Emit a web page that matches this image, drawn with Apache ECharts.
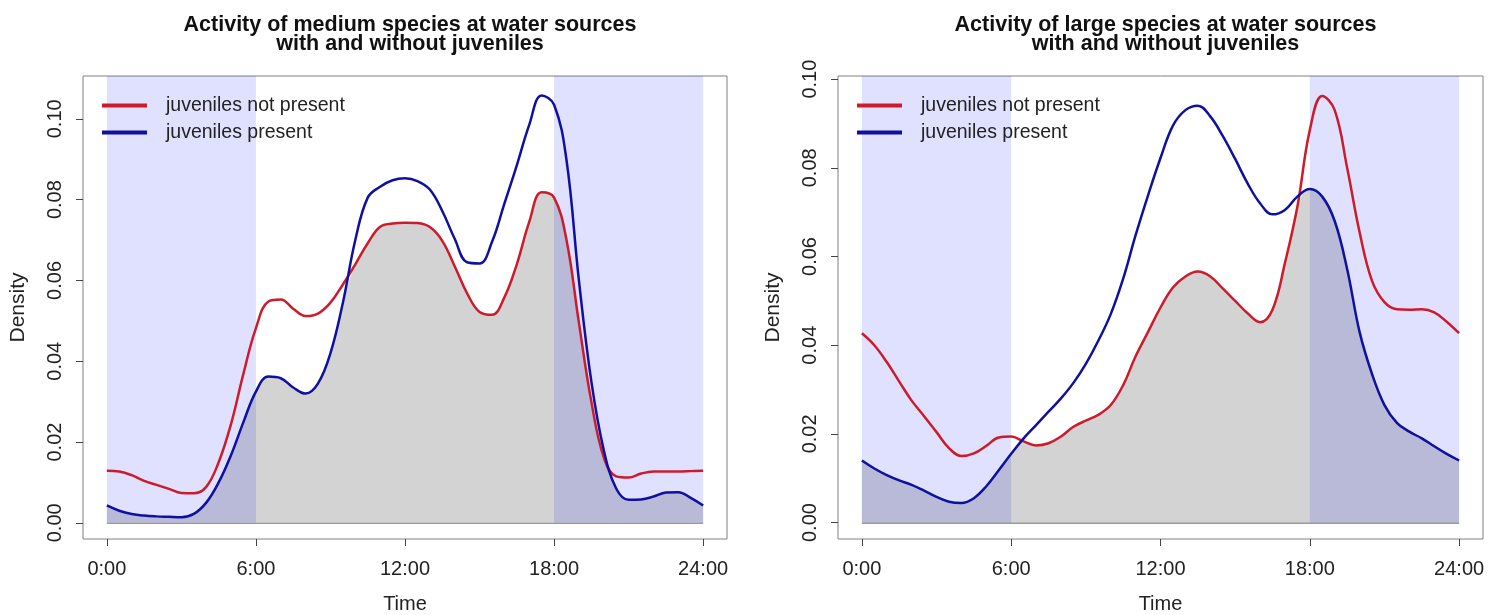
<!DOCTYPE html>
<html lang="en">
<head>
	<meta charset="UTF-8">
	<title>activity at water sources</title>
	<style type="text/css">
	body,html{
		width: 100%;
		height: 100%;
		margin: 0;
		padding: 0;
		background: #fff;
	}
	#chart{
		width: 1504px;
		height: 615px;
	}
	</style>
</head>
<body>
<div id="chart"></div>
<script type="text/javascript" src="https://cdn.jsdelivr.net/npm/echarts@6/dist/echarts.min.js"></script>
<script type="text/javascript">
// hours of the day (x values, every half hour)
var hours = [0,0.5,1,1.5,2,2.5,3,3.5,4,4.5,5,5.5,6,6.5,7,7.5,8,8.5,9,9.5,10,10.5,11,11.5,12,
	12.5,13,13.5,14,14.5,15,15.5,16,16.5,17,17.5,18,18.5,19,19.5,20,20.5,21,21.5,22,22.5,23,23.5,24];
var hourTicks = [0, 6, 12, 18, 24];
var densityTicks = [0, 0.02, 0.04, 0.06, 0.08, 0.10];
var seriesNames = ['juveniles not present', 'juveniles present'];
var titles = ['Activity of medium species at water sources\nwith and without juveniles',
	'Activity of large species at water sources\nwith and without juveniles'];

// medium species
var mediumNoJuv = [0.0129,0.0127,0.0118,0.0104,0.0094,0.0084,0.0074,0.0073,0.0089,0.0150,0.0245,0.0370,0.0482,
	0.0548,0.0553,0.0530,0.0512,0.0518,0.0545,0.0590,0.0640,0.0692,0.0733,0.0741,0.0743,
	0.0742,0.0732,0.0698,0.0635,0.0568,0.0522,0.0515,0.0558,0.0640,0.0745,0.0818,0.0805,
	0.0700,0.0495,0.0300,0.0162,0.0115,0.0112,0.0122,0.0127,0.0127,0.0127,0.0128,0.0129];
var mediumJuv = [0.0043,0.0030,0.0022,0.0018,0.0016,0.0015,0.0014,0.0022,0.0050,0.0100,0.0168,0.0250,0.0325,
	0.0362,0.0358,0.0335,0.0320,0.0345,0.0420,0.0545,0.0700,0.0805,0.0832,0.0848,0.0853,
	0.0846,0.0825,0.0772,0.0703,0.0645,0.0642,0.0695,0.0790,0.0885,0.0985,0.1058,0.1035,
	0.0898,0.0600,0.0350,0.0180,0.0085,0.0057,0.0058,0.0065,0.0075,0.0076,0.0062,0.0043];

// large species
var largeNoJuv = [0.0427,0.0400,0.0362,0.0318,0.0275,0.0240,0.0204,0.0168,0.0150,0.0156,0.0173,0.0192,0.0194,
	0.0183,0.0174,0.0179,0.0194,0.0216,0.0230,0.0243,0.0265,0.0310,0.0375,0.0430,0.0485,
	0.0530,0.0555,0.0566,0.0555,0.0528,0.0500,0.0472,0.0452,0.0480,0.0585,0.0712,0.0885,
	0.0962,0.0930,0.0800,0.0655,0.0545,0.0497,0.0481,0.0480,0.0481,0.0474,0.0453,0.0427];
var largeJuv = [0.0140,0.0122,0.0107,0.0095,0.0085,0.0072,0.0058,0.0047,0.0044,0.0055,0.0082,0.0118,0.0155,
	0.0190,0.0220,0.0250,0.0280,0.0315,0.0358,0.0410,0.0470,0.0550,0.0648,0.0738,0.0822,
	0.0895,0.0930,0.0940,0.0916,0.0872,0.0820,0.0765,0.0720,0.0695,0.0705,0.0735,0.0752,
	0.0735,0.0680,0.0572,0.0430,0.0335,0.0265,0.0225,0.0205,0.0190,0.0172,0.0155,0.0140];

var panels = [
	{ a: mediumNoJuv, b: mediumJuv, left: 83, width: 644, ymin: -0.0040, ymax: 0.1106 },
	{ a: largeNoJuv, b: largeJuv, left: 838, width: 645, ymin: -0.0037, ymax: 0.1007 }
];

var red = '#cc1c2c';
var blue = '#1010a0';
var font = 'Liberation Sans, Arial, sans-serif';

function pairs(vals){
	return hours.map(function(h, i){ return [h, vals[i]]; });
}
function overlap(a, b){
	return hours.map(function(h, i){ return [h, Math.min(a[i], b[i])]; });
}

var option = {
	animation: false,
	backgroundColor: '#fff',
	textStyle: { fontFamily: font },
	title: [], legend: [], grid: [], xAxis: [], yAxis: [], series: []
};

panels.forEach(function(p, k){
	var mid = p.left + p.width / 2;
	option.title.push({
		text: titles[k],
		left: mid, top: 10, textAlign: 'center',
		textStyle: { fontSize: 21.5, fontWeight: 'bold', color: '#111', lineHeight: 19.5, fontFamily: font }
	});
	option.legend.push({
		data: seriesNames,
		orient: 'vertical',
		left: p.left + 14, top: 90,
		icon: 'rect', itemWidth: 45, itemHeight: 4, itemGap: 6,
		textStyle: { fontSize: 19.5, color: '#222', lineHeight: 21, padding: [0, 0, 0, 14], fontFamily: font },
		selectedMode: false
	});
	option.grid.push({
		left: p.left, top: 76, width: p.width, height: 463,
		outerBoundsMode: 'none', containLabel: false,
		show: true, borderColor: '#808080', borderWidth: 1, backgroundColor: 'transparent'
	});
	option.xAxis.push({
		type: 'value', gridIndex: k, min: -0.96, max: 24.96,
		name: 'Time', nameLocation: 'middle', nameGap: 55,
		nameTextStyle: { fontSize: 20, color: '#222' },
		splitLine: { show: false },
		axisLine: { show: false, onZero: false },
		axisTick: { show: true, length: 7, customValues: hourTicks, lineStyle: { color: '#444' } },
		axisLabel: { customValues: hourTicks, fontSize: 20, color: '#222', margin: 20,
			formatter: function(v){ return v + ':00'; } }
	});
	option.yAxis.push({
		type: 'value', gridIndex: k, min: p.ymin, max: p.ymax,
		name: 'Density', nameLocation: 'middle', nameGap: 54, nameRotate: 90,
		nameTextStyle: { fontSize: 21, color: '#222' },
		splitLine: { show: false },
		axisLine: { show: false, onZero: false },
		axisTick: { show: true, length: 7, customValues: densityTicks, lineStyle: { color: '#444' } },
		axisLabel: { customValues: densityTicks, fontSize: 20, color: '#222', rotate: 90, margin: 18,
			formatter: function(v){ return v.toFixed(2); } }
	});
	// grey overlap of the two densities
	option.series.push({
		type: 'line', xAxisIndex: k, yAxisIndex: k, z: 1,
		data: overlap(p.a, p.b), smooth: 0.4, showSymbol: false, silent: true,
		lineStyle: { width: 0 },
		areaStyle: { color: '#d3d3d3', opacity: 1 },
		markLine: {
			silent: true, symbol: 'none', label: { show: false }, z: 1,
			lineStyle: { color: '#777', width: 1.5, type: 'solid' },
			data: [[{ coord: [0, 0] }, { coord: [24, 0] }]]
		}
	});
	// night hours, drawn over the grey fill
	option.series.push({
		type: 'line', xAxisIndex: k, yAxisIndex: k, z: 2,
		data: overlap(p.a, p.b), showSymbol: false, silent: true,
		lineStyle: { opacity: 0 },
		markArea: {
			silent: true, z: 2,
			itemStyle: { color: 'rgba(0,0,255,0.12)' },
			data: [
				[{ coord: [0, 0] }, { coord: [6, p.ymax] }],
				[{ coord: [18, 0] }, { coord: [24, p.ymax] }]
			]
		}
	});
	option.series.push({
		name: seriesNames[0], type: 'line', xAxisIndex: k, yAxisIndex: k, z: 3,
		data: pairs(p.a), smooth: 0.4, showSymbol: false,
		color: red, lineStyle: { color: red, width: 2.5 }
	});
	option.series.push({
		name: seriesNames[1], type: 'line', xAxisIndex: k, yAxisIndex: k, z: 3,
		data: pairs(p.b), smooth: 0.4, showSymbol: false,
		color: blue, lineStyle: { color: blue, width: 2.5 }
	});
});

var chart = echarts.init(document.getElementById('chart'), null, { renderer: 'canvas' });
chart.setOption(option);
window.addEventListener('resize', function(){ chart.resize(); });
</script>
</body>
</html>
